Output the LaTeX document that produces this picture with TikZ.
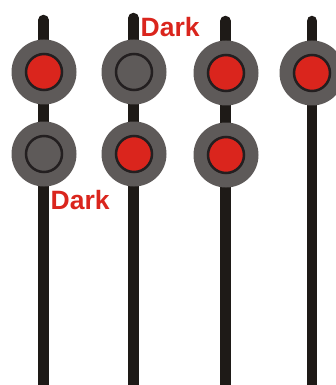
\documentclass[tikz,border=0pt]{standalone}
\usepackage{fontspec}
\setmainfont{Liberation Sans}
\usepackage{tikz}

\definecolor{polecol}{HTML}{1E1A17}
\definecolor{headcol}{HTML}{5E5A59}
\definecolor{lampred}{HTML}{DA251D}
\definecolor{ringcol}{HTML}{231F20}

\tikzset{
  pole/.style={line width=10.5pt,polecol,line cap=round},
  head/.style={circle,fill=headcol,minimum size=65pt,inner sep=0pt},
  lampon/.style={circle,fill=lampred,draw=ringcol,line width=2.5pt,minimum size=36pt,inner sep=0pt},
  lampoff/.style={lampon,fill=headcol},
  darklabel/.style={anchor=base west,inner sep=0pt,text=lampred,font=\fontsize{26.5}{26.5}\selectfont\bfseries}
}

\begin{document}
\begin{tikzpicture}[x=1pt,y=-1pt]
        \useasboundingbox (0,0) rectangle (336,385);
        \clip (0,0) rectangle (336,385);

        % Draw the poles
        \draw[pole] (43.5,20) -- (43.5,400);
        \draw[pole] (133.5,18) -- (133.5,400);
        \draw[pole] (225.5,21) -- (225.5,400);
        \draw[pole] (312,21) -- (312,400);

        % Upper signal heads
        \node[head] (h1) at (44,72) {};
        \node[head] (h2) at (134,72) {};
        \node[head] (h3) at (226,73) {};
        \node[head] (h4) at (312,73) {};
        \node[lampon] (l1) at (h1) {};
        \node[lampoff] (l2) at (h2) {};
        \node[lampon] (l3) at (h3) {};
        \node[lampon] (l4) at (h4) {};

        % Lower signal heads
        \node[head] (g1) at (44,154) {};
        \node[head] (g2) at (134,154) {};
        \node[head] (g3) at (226,155) {};
        \node[lampoff] (k1) at (g1) {};
        \node[lampon] (k2) at (g2) {};
        \node[lampon] (k3) at (g3) {};

        % Labels for the dark lamps
        \node[darklabel] (dark1) at (140.5,37) {Dark};
        \node[darklabel] (dark2) at (50.5,209) {Dark};
\end{tikzpicture}
\end{document}
